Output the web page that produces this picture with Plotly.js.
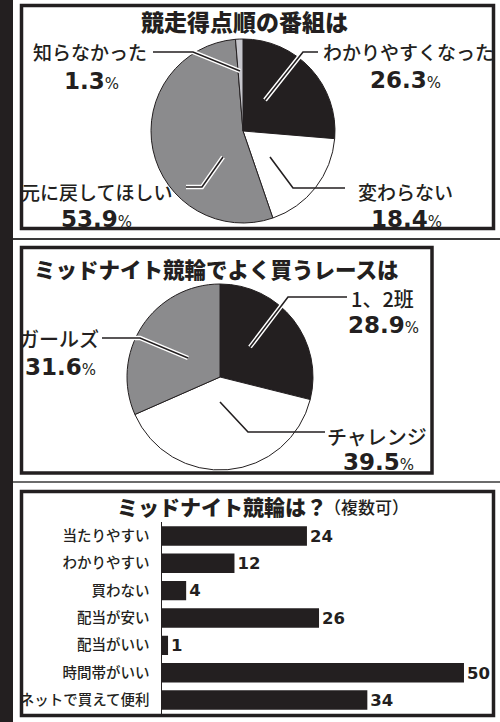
<!DOCTYPE html>
<html>
<head>
<meta charset="utf-8">
<script src="https://cdn.plot.ly/plotly-3.0.1.min.js"></script>
<style>html,body{margin:0;padding:0;background:#fff;}#chart{width:500px;height:722px;}</style>
</head>
<body>
<div id="chart"></div>
<script>
// ---- data ----
const pie1Title = '競走得点順の番組は';
const pie1Labels = ['わかりやすくなった', '変わらない', '元に戻してほしい', '知らなかった'];
const pie1Values = [26.3, 18.4, 53.9, 1.3];
const pie1Colors = ['#231f20', '#ffffff', '#8b8b8d', '#c6c6cc'];

const pie2Title = 'ミッドナイト競輪でよく買うレースは';
const pie2Labels = ['1、2班', 'チャレンジ', 'ガールズ'];
const pie2Values = [28.9, 39.5, 31.6];
const pie2Colors = ['#231f20', '#ffffff', '#8b8b8d'];

const barTitle = 'ミッドナイト競輪は？';
const barSubtitle = '（複数可）';
const barCategories = ['当たりやすい', 'わかりやすい', '買わない', '配当が安い', '配当がいい', '時間帯がいい', 'ネットで買えて便利'];
const barValues = [24, 12, 4, 26, 1, 50, 34];

// ---- layout helpers (pixel -> paper) ----
const W = 500, H = 722;
const px = x => x / W;
const py = y => 1 - y / H;
const INK = '#231f20';
const JP = '"Noto Sans CJK JP", "Noto Sans", sans-serif';
const NUM = '"DejaVu Sans", "Liberation Sans", sans-serif';

const traces = [
  {
    type: 'pie', values: pie1Values, labels: pie1Labels, sort: false,
    direction: 'clockwise', rotation: 0, textinfo: 'none', hoverinfo: 'none',
    marker: {colors: pie1Colors, line: {color: INK, width: 1}},
    domain: {x: [px(151), px(335)], y: [py(223), py(39)]}, showlegend: false
  },
  {
    type: 'pie', values: pie2Values, labels: pie2Labels, sort: false,
    direction: 'clockwise', rotation: 0, textinfo: 'none', hoverinfo: 'none',
    marker: {colors: pie2Colors, line: {color: INK, width: 1}},
    domain: {x: [px(127), px(313)], y: [py(470), py(284)]}, showlegend: false
  },
  {
    type: 'bar', orientation: 'h', x: barValues, y: barCategories,
    marker: {color: INK}, texttemplate: '%{x}', textposition: 'outside',
    textfont: {family: NUM, size: 17, color: INK, weight: 'bold'},
    cliponaxis: false, hoverinfo: 'none', showlegend: false,
    xaxis: 'x', yaxis: 'y'
  }
];

// label / value positions (layout only)
const pie1LabelPos = [[408, 52], [405, 191], [96, 191], [90, 52]];
const pie1ValuePos = [[405, 80], [406, 219], [96, 219], [91, 81]];
const pie2LabelPos = [[382, 298], [377, 436], [59, 338]];
const pie2ValuePos = [[383, 325], [378, 462], [60, 367]];

const annotations = [];
function addText(text, x, y, font, xanchor) {
  annotations.push({text, x: px(x), y: py(y), xref: 'paper', yref: 'paper',
    xanchor: xanchor || 'center', yanchor: 'middle', showarrow: false, font});
}
function valText(v) {
  return '<b>' + v.toFixed(1) + '</b><span style="font-size:15px">%</span>';
}
addText(pie1Title, 244, 21, {family: JP, size: 23, color: INK, weight: 900});
pie1Labels.forEach((l, i) => {
  addText(l, pie1LabelPos[i][0], pie1LabelPos[i][1], {family: JP, size: 19, color: INK, weight: 500});
  addText(valText(pie1Values[i]), pie1ValuePos[i][0], pie1ValuePos[i][1], {family: NUM, size: 23, color: INK});
});
addText(pie2Title, 32, 268, {family: JP, size: 21.5, color: INK, weight: 900}, 'left');
pie2Labels.forEach((l, i) => {
  addText(l, pie2LabelPos[i][0], pie2LabelPos[i][1], {family: JP, size: 20, color: INK, weight: 500});
  addText(valText(pie2Values[i]), pie2ValuePos[i][0], pie2ValuePos[i][1], {family: NUM, size: 23, color: INK});
});
addText(barTitle, 329, 506, {family: JP, size: 21, color: INK, weight: 900}, 'right');
addText(barSubtitle, 322, 507, {family: JP, size: 17, color: INK, weight: 500}, 'left');

// ---- decorative shapes ----
const shapes = [];
function rect(x0, y0, x1, y1, opts) {
  shapes.push(Object.assign({type: 'rect', xref: 'paper', yref: 'paper',
    x0: px(x0), x1: px(x1), y0: py(y1), y1: py(y0)}, opts));
}
function path(pts, color, width) {
  const d = pts.map((p, i) => (i ? 'L' : 'M') + px(p[0]) + ',' + py(p[1])).join(' ');
  shapes.push({type: 'path', xref: 'paper', yref: 'paper', path: d,
    line: {color, width}});
}
function leader(pts, halo) {
  if (halo) path(pts, '#ffffff', 4.5);
  path(pts, INK, 1.6);
}
rect(0, 0, 13, 722, {fillcolor: INK, line: {width: 0}});
// separators
path([[13, 239], [500, 239]], '#3a3a3a', 2);
path([[13, 482], [500, 482]], '#3a3a3a', 1.5);
// panel borders
rect(21.5, 5.5, 493.5, 228.5, {line: {color: INK, width: 3.5}});
rect(21.5, 247.5, 432, 473, {line: {color: INK, width: 3.5}});
rect(21.5, 491.5, 493.5, 715.5, {line: {color: INK, width: 3.5}});

// leader lines pie 1
leader([[318, 52], [303, 52], [265, 100]], true);
leader([[153, 52], [193, 52], [240, 71]], true);
leader([[186, 187], [202, 187], [223, 157]], true);
leader([[270, 157], [293, 188], [345, 188]], false);
// leader lines pie 2
leader([[347, 297], [288, 297], [250, 347]], true);
leader([[102, 338], [140, 338], [188, 358]], true);
leader([[220, 402], [248, 432], [325, 432]], false);

const layout = {
  width: W, height: H, margin: {l: 0, r: 0, t: 0, b: 0},
  paper_bgcolor: '#ffffff', plot_bgcolor: 'rgba(0,0,0,0)',
  showlegend: false, bargap: 0.29,
  xaxis: {domain: [px(162), px(492)], range: [0, 54.64], visible: false, fixedrange: true},
  yaxis: {domain: [py(713.7), py(522.3)], type: 'category',
    categoryorder: 'array', categoryarray: barCategories,
    range: [6.5, -0.5], showline: true, linecolor: INK, linewidth: 1.5,
    showgrid: false, zeroline: false, ticks: '', ticklabelstandoff: 8,
    tickfont: {family: JP, size: 14.5, color: INK, weight: 500}, fixedrange: true},
  annotations, shapes
};

Plotly.newPlot('chart', traces, layout, {staticPlot: true, displayModeBar: false});
</script>
</body>
</html>
